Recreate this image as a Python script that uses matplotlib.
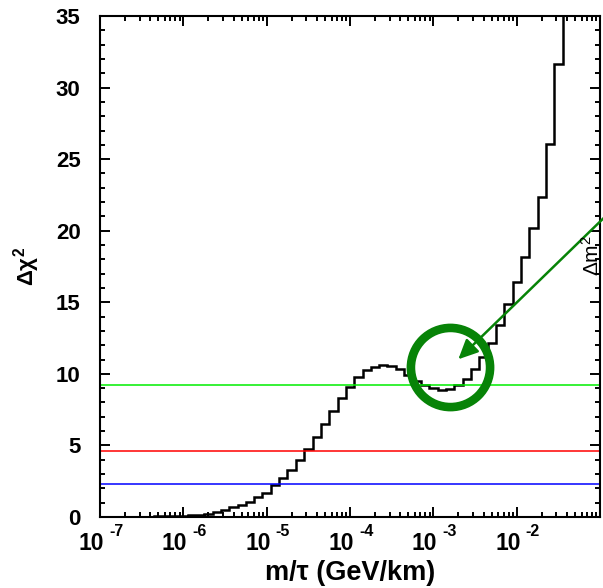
import numpy as np
import matplotlib.pyplot as plt
from matplotlib.ticker import FixedLocator, LogLocator, MultipleLocator, NullFormatter
from matplotlib.transforms import blended_transform_factory, ScaledTranslation

plt.rcParams['font.family'] = ['Liberation Sans', 'DejaVu Sans']
plt.rcParams['font.weight'] = 'bold'
plt.rcParams['axes.labelweight'] = 'bold'
plt.rcParams['mathtext.fontset'] = 'custom'
plt.rcParams['mathtext.rm'] = 'Liberation Sans:bold'
plt.rcParams['mathtext.bf'] = 'Liberation Sans:bold'
plt.rcParams['mathtext.it'] = 'Liberation Sans:bold'

# delta chi2 scan, one value per 0.1-decade bin, first bin centred on 1e-7
first_bin_centre = -7.0
bin_width = 0.1
dchi2 = [0.00, 0.00, 0.00, 0.00, 0.01, 0.02, 0.03, 0.04, 0.05, 0.07,
         0.09, 0.12, 0.16, 0.22, 0.33, 0.49, 0.68, 0.84, 1.07, 1.38,
         1.70, 2.21, 2.70, 3.28, 3.98, 4.73, 5.61, 6.50, 7.43, 8.30,
         9.08, 9.75, 10.27, 10.50, 10.60, 10.56, 10.33, 9.92, 9.52, 9.25,
         8.99, 8.90, 8.95, 9.22, 9.65, 10.33, 11.20, 12.15, 13.40, 14.87,
         16.44, 18.17, 20.17, 22.38, 26.04, 31.63, 40.0]

# confidence levels (2 dof): 68%, 90%, 99%
cl_levels = [2.30, 4.61, 9.21]
cl_colors = ['#0000ff', '#ff0000', '#00ee00']

# marked minimum and arrow
ring_x, ring_y = 10 ** -2.80, 10.48
arrow_head = (10 ** -2.70, 11.02)
arrow_tail = (10 ** -0.90, 21.2)

xtick_exps = [-7, -6, -5, -4, -3, -2]
xtick_base = '10'

fig = plt.figure(figsize=(6.03, 5.88), dpi=100)
ax = fig.add_axes([100 / 603, 1 - 517 / 588, 500 / 603, 501 / 588])

n = len(dchi2)
edges = 10 ** (first_bin_centre - bin_width / 2 + bin_width * np.arange(n + 1))
ax.stairs(dchi2, edges, baseline=None, color='black', lw=1.8)

for lev, col in zip(cl_levels, cl_colors):
    ax.axhline(lev, color=col, lw=1.1)

ax.plot([ring_x], [ring_y], 'o', ms=57, mfc='none', mec='#078307', mew=6.2)
ax.annotate('', xy=arrow_head, xytext=arrow_tail, annotation_clip=False,
            arrowprops=dict(arrowstyle='-|>,head_length=0.85,head_width=0.4',
                            color='#078307', lw=1.8, shrinkA=0, shrinkB=0,
                            mutation_scale=14))

ax.set_xscale('log')
ax.set_xlim(1e-7, 1e-1)
ax.set_ylim(0, 35)

ax.xaxis.set_major_locator(FixedLocator([10.0 ** e for e in xtick_exps]))
ax.xaxis.set_minor_locator(LogLocator(base=10, subs=np.arange(2, 10), numticks=20))
ax.xaxis.set_minor_formatter(NullFormatter())
ax.yaxis.set_major_locator(MultipleLocator(5))
ax.yaxis.set_minor_locator(MultipleLocator(1))

ax.tick_params(which='both', direction='in', top=True, right=True, width=1.4)
ax.tick_params(which='major', length=7)
ax.tick_params(which='minor', length=3.5)
ax.tick_params(axis='y', which='major', labelsize=16, pad=14)
ax.tick_params(axis='x', labelbottom=False)
for s in ax.spines.values():
    s.set_linewidth(1.5)

# "10" with a raised exponent, drawn as two pieces per decade
xax = blended_transform_factory(ax.transData, ax.transAxes)
for e in xtick_exps:
    base_off = ScaledTranslation(4 / 100, -33 / 100, fig.dpi_scale_trans)
    exp_off = ScaledTranslation(9 / 100, -19 / 100, fig.dpi_scale_trans)
    ax.text(10.0 ** e, 0, xtick_base, transform=xax + base_off,
            ha='right', va='baseline', fontsize=16.5)
    ax.text(10.0 ** e, 0, str(e), transform=xax + exp_off,
            ha='left', va='baseline', fontsize=11.5)

ax.set_xlabel('m/τ (GeV/km)', fontsize=19.5)
ax.xaxis.set_label_coords(0.5, (517 - 580) / 501)
ax.xaxis.label.set_verticalalignment('baseline')
ax.set_ylabel(r'$\mathdefault{\Delta\chi^{2}}$', fontsize=16, labelpad=10)

fig.text(0.982, 0.565, r'$\mathdefault{\Delta m^{2}}$', rotation=90,
         ha='center', va='center', fontsize=15, fontweight='normal')

fig.savefig('out.png', dpi=100)
